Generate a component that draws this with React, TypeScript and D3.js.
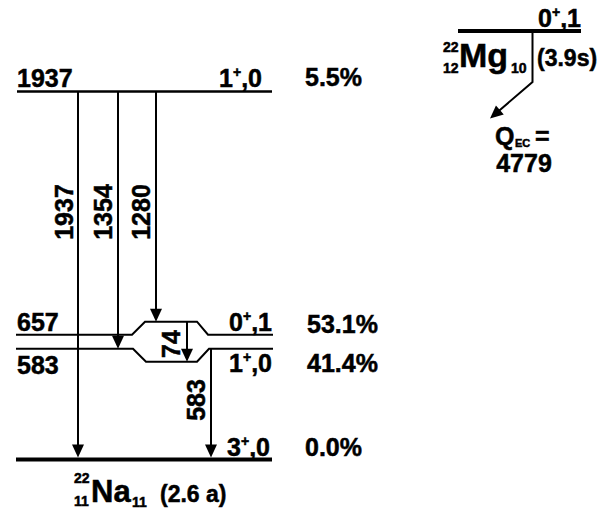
import React from "react";
import * as d3 from "d3";

// ---- data ----
const levelEnergies = [1937, 657, 583, 0];
const levelEnergyLabels = ["1937", "657", "583", ""];
const levelSpins = [["1", "+", ",0"], ["0", "+", ",1"], ["1", "+", ",0"], ["3", "+", ",0"]];
const feedings = ["5.5%", "53.1%", "41.4%", "0.0%"];
const gammaFrom = [1937, 1937, 1937, 657, 583];
const gammaTo = [0, 583, 657, 583, 0];
const gammaLabels = ["1937", "1354", "1280", "74", "583"];
const parentSpin = ["0", "+", ",1"];
const parentHalfLife = "(3.9s)";
const qec = "4779";
const daughterHalfLife = "(2.6 a)";

const FONT = "'Liberation Sans', Arial, Helvetica, sans-serif";

function arrowHead(tx: number, ty: number, dx: number, dy: number, len = 13, hw = 6) {
  const n = Math.hypot(dx, dy);
  const ux = dx / n, uy = dy / n;
  const bx = tx - ux * len, by = ty - uy * len;
  const px = -uy, py = ux;
  return `M${tx},${ty}L${bx + px * hw},${by + py * hw}L${bx - px * hw},${by - py * hw}Z`;
}

export default function App() {
  const y = d3.scaleLinear().domain([0, 1937]).range([459.5, 91.5]);
  const xL = 16, xR = 273;
  const bump = 13;
  const line = d3.line<[number, number]>();

  // layout of gamma x positions
  const gammaX = [78, 118, 156, 187, 211];
  const bumpOffset = (e: number, i: number) => {
    if (e === 657 && gammaX[i] > 140 && gammaX[i] < 200) return -bump;
    if (e === 583 && gammaX[i] > 140 && gammaX[i] < 200) return bump;
    return 0;
  };

  const y657 = y(657), y583 = y(583);
  const path657 = line([[xL, y657], [132, y657], [145, y657 - bump], [197, y657 - bump], [208, y657], [xR, y657]]);
  const path583 = line([[xL, y583], [133, y583], [146, y583 + bump], [197, y583 + bump], [209, y583], [xR, y583]]);

  const spinRight = [262, 272, 272, 270];
  const spinBase = [y(1937) - 5, y657 - 4, y583 + 23, y(0) - 4];
  const leftBase = [y(1937) - 5, y657 - 4, y583 + 25];
  const pctX = [305, 307, 307, 305];
  const pctBase = [86, 333, 372, 456];

  const gLabelBase = [73, 112, 150, 180, 205];
  const gLabelCenter = [212, 212, 212, 344, 400];

  const tipY = (i: number) => {
    const e = gammaTo[i];
    if (e === 0) return y(0) - 2;
    return y(e) + bumpOffset(e, i);
  };
  const startY = (i: number) => y(gammaFrom[i]) + bumpOffset(gammaFrom[i], i);

  const spinText = (s: string[]) => (
    <>
      <tspan>{s[0]}</tspan>
      <tspan fontSize={14} dy={-10}>{s[1]}</tspan>
      <tspan dy={10}>{s[2]}</tspan>
    </>
  );

  const ts = { stroke: "#000", strokeWidth: 0.5 } as any;

  return (
    <svg width={610} height={512} style={{ position: "absolute", left: 0, top: 0 }} fontFamily={FONT} fontWeight="bold">
      <rect width={610} height={512} fill="#fff" />
      {/* levels */}
      <line x1={17} x2={272} y1={y(1937)} y2={y(1937)} stroke="#000" strokeWidth={2.5} />
      <path d={path657 || ""} fill="none" stroke="#000" strokeWidth={2} />
      <path d={path583 || ""} fill="none" stroke="#000" strokeWidth={2} />
      <line x1={16} x2={272} y1={y(0)} y2={y(0)} stroke="#000" strokeWidth={4} />

      {/* gammas */}
      {gammaLabels.map((lab, i) => {
        const x = gammaX[i];
        const y1 = startY(i), y2 = tipY(i);
        return (
          <g key={lab}>
            <line x1={x} x2={x} y1={y1} y2={y2 - 10} stroke="#000" strokeWidth={2} />
            <path d={arrowHead(x, y2, 0, 1)} fill="#000" />
            <text
              transform={`translate(${gLabelBase[i]},${gLabelCenter[i]}) rotate(-90)`}
              textAnchor="middle"
              fontSize={25}
              {...ts}
            >
              {lab}
            </text>
          </g>
        );
      })}

      {/* energy labels */}
      {levelEnergyLabels.map((l, i) =>
        l ? (
          <text key={"e" + i} x={17} y={leftBase[i]} fontSize={25} {...ts}>
            {l}
          </text>
        ) : null
      )}
      {/* spins */}
      {levelSpins.map((s, i) => (
        <text key={"s" + i} x={spinRight[i]} y={spinBase[i]} fontSize={25} textAnchor="end" {...ts}>
          {spinText(s)}
        </text>
      ))}
      {/* feedings */}
      {feedings.map((f, i) => (
        <text key={"p" + i} x={pctX[i]} y={pctBase[i]} fontSize={25} {...ts}>
          {f}
        </text>
      ))}

      {/* daughter label */}
      <text x={74} y={483} fontSize={14} {...ts}>22</text>
      <text x={74} y={506} fontSize={14} {...ts}>11</text>
      <text x={91} y={502} fontSize={31} {...ts}>Na</text>
      <text x={132} y={507} fontSize={14} {...ts}>11</text>
      <text x={160} y={502} fontSize={23} {...ts}>{daughterHalfLife}</text>

      {/* parent */}
      <line x1={458} x2={581} y1={31} y2={31} stroke="#000" strokeWidth={4} />
      <text x={581} y={27} fontSize={25} textAnchor="end" {...ts}>{spinText(parentSpin)}</text>
      <path d={line([[532.5, 31], [532.5, 82], [497, 112.5]]) || ""} fill="none" stroke="#000" strokeWidth={2} />
      <path d={arrowHead(490, 118.5, -42, 36)} fill="#000" />
      <text x={443} y={52} fontSize={14} {...ts}>22</text>
      <text x={443} y={73} fontSize={14} {...ts}>12</text>
      <text x={459} y={67} fontSize={34} {...ts}>Mg</text>
      <text x={511} y={73} fontSize={14} {...ts}>10</text>
      <text x={537} y={66} fontSize={23} {...ts}>{parentHalfLife}</text>

      <text x={495} y={145} fontSize={25} {...ts}>Q</text>
      <text x={515} y={147} fontSize={11} {...ts}>EC</text>
      <text x={535} y={145} fontSize={25} {...ts}>=</text>
      <text x={524} y={172} fontSize={25} textAnchor="middle" {...ts}>{qec}</text>
    </svg>
  );
}
